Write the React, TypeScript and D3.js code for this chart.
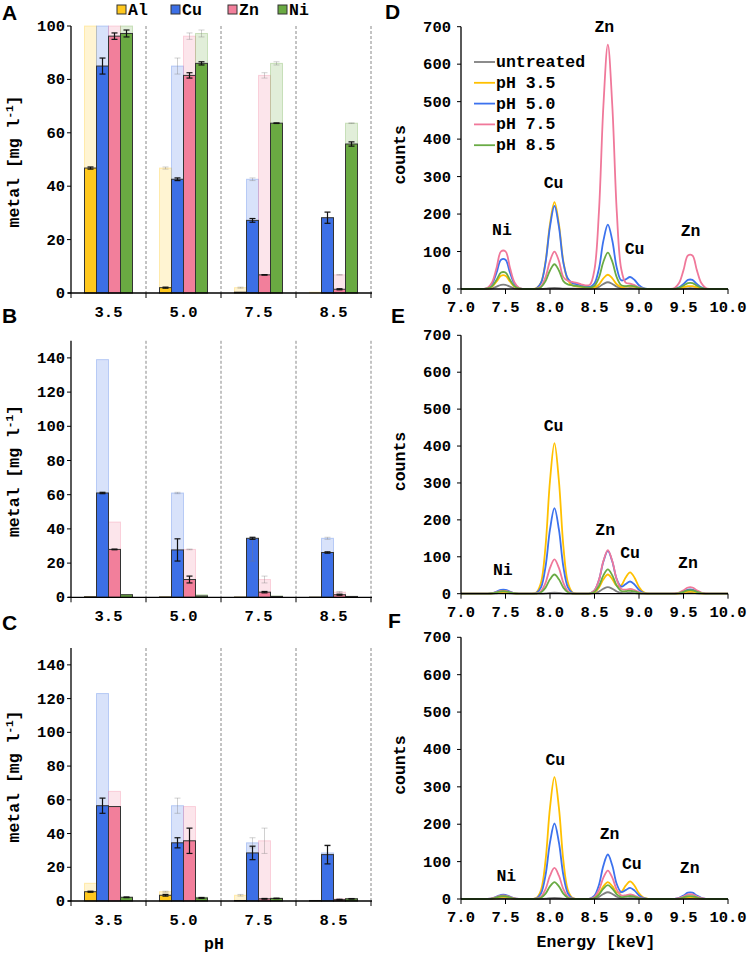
import React from 'react';
import * as d3 from 'd3';

// ---------- bar panels (A, B, C) ----------
const PH = ['3.5', '5.0', '7.5', '8.5'];
const METALS = ['Al', 'Cu', 'Zn', 'Ni'];
const METAL_COLORS = ['#FFC81E', '#3C6FE6', '#F27F9B', '#6AAA42'];

const A_TICKS = [0, 20, 40, 60, 80, 100];
const BC_TICKS = [0, 20, 40, 60, 80, 100, 120, 140];

// Panel A
const A_AL = [46.8, 2.0, 0.3, 0];
const A_CU = [85, 42.6, 27.2, 28.2];
const A_ZN = [96.2, 81.5, 6.8, 1.4];
const A_NI = [97.2, 86, 63.6, 55.8];
const A_AL_ERR = [0.4, 0.2, 0, 0];
const A_CU_ERR = [3, 0.5, 0.7, 2.1];
const A_ZN_ERR = [1.2, 1, 0.1, 0.2];
const A_NI_ERR = [1.3, 0.6, 0.1, 0.8];
const A_INITIAL = [100, 100, 100, 100];

// Panel B
const B_AL = [0.3, 0.2, 0.1, 0.1];
const B_CU = [61, 27.7, 34.5, 26.2];
const B_ZN = [28, 10.4, 3.0, 1.5];
const B_NI = [1.5, 0.8, 0.5, 0.5];
const B_AL_ERR = [0, 0, 0, 0];
const B_CU_ERR = [0.4, 6.5, 0.6, 0.4];
const B_ZN_ERR = [0.2, 2, 0.4, 0.3];
const B_NI_ERR = [0, 0, 0, 0];
const B_INITIAL = [0.3, 139, 44, 1.5];

// Panel C
const C_AL = [5.5, 3.4, 0.3, 0.3];
const C_CU = [56.5, 34.5, 28.5, 27.5];
const C_ZN = [56, 35.7, 1.3, 0.8];
const C_NI = [2.2, 1.8, 1.5, 1.3];
const C_AL_ERR = [0.3, 0.5, 0, 0];
const C_CU_ERR = [4.5, 3, 4, 5.5];
const C_ZN_ERR = [0, 7.5, 0.2, 0.1];
const C_NI_ERR = [0.2, 0.2, 0.1, 0.1];
const C_INITIAL = [10.5, 123, 65, 2.2];

// ---------- spectra panels (D, E, F) ----------
const SPEC_NAMES = ['untreated', 'pH 3.5', 'pH 5.0', 'pH 7.5', 'pH 8.5'];
const SPEC_COLORS = ['#7F7F7F', '#FFC000', '#3C72EE', '#F0789A', '#6AAB45'];
const SPEC_TICKS = [0, 100, 200, 300, 400, 500, 600, 700];
const ENERGY_TICKS = [7, 7.5, 8, 8.5, 9, 9.5, 10];

const ENERGY = [7.00, 7.05, 7.10, 7.15, 7.20, 7.25, 7.30, 7.35, 7.40, 7.45, 7.50, 7.55, 7.60, 7.65, 7.70, 7.75, 7.80, 7.85, 7.90, 7.95,
  8.00, 8.05, 8.10, 8.15, 8.20, 8.25, 8.30, 8.35, 8.40, 8.45, 8.50, 8.55, 8.60, 8.65, 8.70, 8.75, 8.80, 8.85, 8.90, 8.95,
  9.00, 9.05, 9.10, 9.15, 9.20, 9.25, 9.30, 9.35, 9.40, 9.45, 9.50, 9.55, 9.60, 9.65, 9.70, 9.75, 9.80, 9.85, 9.90, 9.95, 10.00];

const D_UNTREATED = [0,0,0,0,0, 0,0.4,2,6.3,11.2, 11.2,6.3,2,0.4,0, 0,0,0,0.2,1, 2.3,3,2.3,1,1, 1,0.9,0.7,0.5,0.5, 1.55,5.7,13.5,18,13.5, 5.9,2,1.7,2,1.5, 0.6,0.15,0,0,0, 0,0,0,0,0.3, 1,1.9,1.9,1,0.3, 0,0,0,0,0, 0];
const D_PH35 = [0,0,0,0,0, 0.1,1.1,6.3,19.9,35.4, 35.4,19.9,6.3,1.1,0.1, 0,0.2,2.3,17.6,73.5, 174,232,174,73.5,24, 10.3,7.2,5.6,4,2.8, 4.1,12,28.5,38,28.6, 12.6,5.4,6.4,8,6, 2.5,0.6,0.1,0,0, 0,0,0,0.2,1.3, 4.2,7.4,7.4,4.2,1.3, 0.2,0,0,0,0, 0];
const D_PH50 = [0,0,0,0,0, 0.25,2.5,13.9,44,78.2, 78.2,44,13.9,2.5,0.25, 0,0.2,2.2,16.9,70.4, 166.5,222,166.5,70.4,28.1, 16.2,12.6,9.8,7,5.9, 15.2,54.5,129,172,129.3, 56.9,23.2,25.7,32,24, 10.1,2.4,0.3,0,0, 0,0,0.1,0.8,4.3, 13.6,24.2,24.2,13.6,4.3, 0.8,0.1,0,0,0, 0];
const D_PH75 = [0,0,0,0,0, 0.3,3.2,17.9,56.6,100.5, 100.5,56.6,17.9,3.2,0.3, 0,0.1,1,7.6,31.7, 75,100,75,31.7,22, 19,16.2,12.6,9.5,11.9, 52.3,206.7,489,652,489, 207.8,54,17,14.5,10.5, 4.4,1.1,0.14,0,0, 0,0,0.3,2.9,15.9, 50.3,89.4,89.4,50.3,15.9, 2.9,0.3,0,0,0, 0];
const D_PH85 = [0,0,0,0,0, 0.14,1.4,7.8,24.6,43.8, 43.8,24.6,7.8,1.4,0.14, 0,0,0.7,5,20.9, 49.5,66,49.5,20.9,12.2, 9.7,8.1,6.3,4.5,3.7, 8.7,30.7,72.8,97,72.9, 31.4,10.3,7.8,9,6.8, 2.9,0.7,0.1,0,0, 0,0,0.05,0.5,2.8, 8.9,15.8,15.8,8.9,2.8, 0.5,0.05,0,0,0, 0];

const E_UNTREATED = [0,0,0,0,0, 0,0.06,0.33,1.05,1.86, 1.86,1.05,0.33,0.06,0, 0,0,0,0.2,1, 2.3,3,2.3,1,0.2, 0,0,0,0,0.2, 1.4,5.7,13.5,18,13.5, 5.9,2,1.7,2,1.5, 0.6,0.15,0,0,0, 0,0,0,0,0.3, 1,1.9,1.9,1,0.3, 0,0,0,0,0, 0];
const E_PH35 = [0,0,0,0,0, 0,0.15,0.8,2.6,4.7, 4.7,2.6,0.8,0.15,0, 0,0.3,4.1,31,129.3, 306,408,306,129.3,31, 4.1,0.3,0,0,0.5, 4,16.5,39,52,39.6, 20.9,22.4,44,58,43.5, 18.4,4.4,0.6,0,0, 0,0,0,0.2,1, 3.1,5.6,5.6,3.1,1, 0.2,0,0,0,0, 0];
const E_PH50 = [0,0,0,0,0, 0,0.33,1.8,5.8,10.2, 10.2,5.8,1.8,0.33,0, 0,0.2,2.3,17.6,73.5, 174,232,174,73.5,17.6, 2.3,0.2,0,0,1.2, 8.8,36.8,87,116,87.3, 39.3,19.3,26,33,24.8, 10.5,2.5,0.3,0,0, 0,0,0,0.4,2, 6.3,11.2,11.2,6.3,2, 0.4,0,0,0,0, 0];
const E_PH75 = [0,0,0,0,0, 0,0.24,1.3,4.2,7.4, 7.4,4.2,1.3,0.24,0, 0,0,0.9,7.1,29.5, 69.8,93,69.8,29.5,7.1, 0.9,0,0,0,1.2, 9,37.4,88.5,118,88.6, 38.4,13.1,11,13,9.8, 4.1,1,0.1,0,0, 0,0,0.05,0.5,3, 9.4,16.8,16.8,9.4,3, 0.5,0,0,0,0, 0];
const E_PH85 = [0,0,0,0,0, 0,0.2,1.2,3.7,6.5, 6.5,3.7,1.2,0.2,0, 0,0,0.5,4,16.5, 39,52,39,16.5,4, 0.5,0,0,0,0.7, 5,20.9,49.5,66,49.6, 21.5,7.5,6.7,8,6, 2.5,0.6,0.1,0,0, 0,0,0,0.3,1.7, 5.2,9.3,9.3,5.2,1.7, 0.3,0,0,0,0, 0];

const F_UNTREATED = [0,0,0,0,0, 0,0.06,0.33,1.05,1.86, 1.86,1.05,0.33,0.06,0, 0,0,0,0.2,1, 2.3,3,2.3,1,0.2, 0,0,0,0,0.2, 1.4,5.7,13.5,18,13.5, 5.9,2,1.7,2,1.5, 0.6,0.15,0,0,0, 0,0,0,0,0.3, 1,1.9,1.9,1,0.3, 0,0,0,0,0, 0];
const F_PH35 = [0,0,0,0,0, 0,0.18,1,3.1,5.6, 5.6,3.1,1,0.18,0, 0,0.3,3.3,24.8,103.3, 244.5,326,244.5,103.3,24.8, 3.3,0.3,0,0,0.45, 3.4,14.3,33.8,45,34.3, 17.9,18.3,35.7,47,35.3, 14.9,3.6,0.5,0,0, 0,0,0,0.15,0.8, 2.6,4.7,4.7,2.6,0.8, 0.15,0,0,0,0, 0];
const F_PH50 = [0,0,0,0,0, 0,0.36,2,6.3,11.2, 11.2,6.3,2,0.36,0, 0,0.2,2,15.4,64, 151.5,202,151.5,64,15.4, 2,0.2,0,0,1.2, 9,37.7,89.3,119,89.6, 40,18.5,23.7,30,22.5, 9.5,2.3,0.3,0,0, 0,0,0.05,0.5,3, 9.4,16.8,16.8,9.4,3, 0.5,0,0,0,0, 0];
const F_PH75 = [0,0,0,0,0, 0,0.3,1.7,5.2,9.3, 9.3,5.2,1.7,0.3,0, 0,0,0.8,6.3,26.3, 62.3,83,62.3,26.3,6.3, 0.8,0,0,0,0.8, 5.8,24.1,57,76,57.1, 25,9.6,9.8,12,9, 3.8,0.9,0.1,0,0, 0,0,0,0.4,2.2, 6.8,12.1,12.1,6.8,2.2, 0.4,0,0,0,0, 0];
const F_PH85 = [0,0,0,0,0, 0,0.24,1.3,4.2,7.4, 7.4,4.2,1.3,0.24,0, 0,0,0.45,3.4,14.3, 33.8,45,33.8,14.3,3.4, 0.45,0,0,0,0.4, 2.8,11.7,27.8,37,27.9, 12.3,5.3,6.4,8,6, 2.5,0.6,0.1,0,0, 0,0,0,0.24,1.3, 4.2,7.4,7.4,4.2,1.3, 0.24,0,0,0,0, 0];

const PEAK_NAMES = ['Ni', 'Cu', 'Zn', 'Cu', 'Zn'];
const D_PEAK_E = [7.46, 8.04, 8.61, 8.95, 9.58];
const D_PEAK_C = [158, 283, 700, 107, 155];
const E_PEAK_E = [7.47, 8.04, 8.62, 8.90, 9.55];
const E_PEAK_C = [64, 454, 173, 111, 82];
const F_PEAK_E = [7.51, 8.06, 8.67, 8.92, 9.57];
const F_PEAK_C = [62, 373, 173, 93, 82];

const MONO = '"Liberation Mono", "Courier New", monospace';
const SANS = '"Liberation Sans", Arial, sans-serif';

function BarPanel(props: any) {
  const { top, bottom, yMax, ticks, series, errs, initial, letter, letterY, legend, xTitle } = props;
  const left = 71, right = 371;
  const y = d3.scaleLinear().domain([0, yMax]).range([bottom, top]);
  const gx = d3.scaleBand<string>().domain(PH).range([left, right]);
  const mx = d3.scaleBand<string>().domain(METALS).range([13.5, 61.5]);
  const bw = mx.bandwidth();
  const midY = (top + bottom) / 2 + 2;
  const faded: any[] = [];
  const solid: any[] = [];
  const fadedErr: any[] = [];
  const solidErr: any[] = [];
  PH.forEach((p, k) => {
    METALS.forEach((m, j) => {
      const x0 = (gx(p) as number) + (mx(m) as number);
      const cx = x0 + bw / 2;
      const fv = k === 0 ? initial[j] : series[j][k - 1];
      const fe = k === 0 ? 0 : errs[j][k - 1];
      const fh = Math.min(fv, yMax);
      if (fh > 0) {
        faded.push(<rect key={`f${k}${j}`} x={x0} y={y(fh)} width={bw} height={y(0) - y(fh)}
          fill={METAL_COLORS[j]} fillOpacity={0.2} stroke={METAL_COLORS[j]} strokeOpacity={0.3} strokeWidth={1} />);
      }
      if (fe > 0) {
        const y1 = y(Math.min(fv + fe, yMax)), y2 = y(fv - fe);
        fadedErr.push(<g key={`fe${k}${j}`} stroke="#777" strokeOpacity={0.35} strokeWidth={1}>
          <line x1={cx} x2={cx} y1={y1} y2={y2} />
          <line x1={cx - 3} x2={cx + 3} y1={y1} y2={y1} />
          <line x1={cx - 3} x2={cx + 3} y1={y2} y2={y2} />
        </g>);
      }
      const v = series[j][k];
      if (v > 0) {
        solid.push(<rect key={`s${k}${j}`} x={x0} y={y(v)} width={bw} height={y(0) - y(v)}
          fill={METAL_COLORS[j]} stroke="#333" strokeWidth={1} />);
      }
      const e = errs[j][k];
      if (e > 0) {
        const y1 = y(v + e), y2 = y(Math.max(v - e, 0));
        solidErr.push(<g key={`se${k}${j}`} stroke="#111" strokeWidth={1.2}>
          <line x1={cx} x2={cx} y1={y1} y2={y2} />
          <line x1={cx - 3} x2={cx + 3} y1={y1} y2={y1} />
          <line x1={cx - 3} x2={cx + 3} y1={y2} y2={y2} />
        </g>);
      }
    });
  });
  return (
    <g>
      <text x={2} y={letterY} fontFamily={SANS} fontWeight="bold" fontSize={21}>{letter}</text>
      {PH.map((p, k) => (
        <line key={`d${k}`} x1={(gx(p) as number) + gx.bandwidth()} x2={(gx(p) as number) + gx.bandwidth()}
          y1={top} y2={bottom} stroke="#888" strokeWidth={1} strokeDasharray="3,2" />
      ))}
      {faded}
      {solid}
      {fadedErr}
      {solidErr}
      <line x1={left} x2={left} y1={top} y2={bottom} stroke="#000" strokeWidth={1.3} />
      <line x1={left - 3} x2={right + 1} y1={bottom} y2={bottom} stroke="#000" strokeWidth={1.3} />
      {ticks.map((t: number) => (
        <g key={`yt${t}`}>
          <line x1={left - 4} x2={left} y1={y(t)} y2={y(t)} stroke="#000" strokeWidth={1} />
          <text x={left - 6} y={y(t) + 5} textAnchor="end" fontFamily={MONO} fontWeight="bold" fontSize={15.5}>{t}</text>
        </g>
      ))}
      {[...PH.map(p => gx(p) as number), right].map((x, i) => (
        <line key={`xt${i}`} x1={x} x2={x} y1={bottom} y2={bottom + 5} stroke="#000" strokeWidth={1} />
      ))}
      {PH.map(p => (
        <text key={`xl${p}`} x={(gx(p) as number) + gx.bandwidth() / 2} y={bottom + 24} textAnchor="middle"
          fontFamily={MONO} fontWeight="bold" fontSize={15.5}>{p}</text>
      ))}
      <text transform={`translate(19,${midY}) rotate(-90)`} textAnchor="middle" fontFamily={MONO} fontWeight="bold" fontSize={16.5}>
        metal [mg l<tspan dy={-6} fontSize={11}>-1</tspan><tspan dy={6}>]</tspan>
      </text>
      {xTitle && <text x={214} y={949} textAnchor="middle" fontFamily={MONO} fontWeight="bold" fontSize={16.5}>pH</text>}
      {legend && METALS.map((m, j) => {
        const lx = [117, 171, 228, 278][j];
        return (
          <g key={`lg${m}`}>
            <rect x={lx} y={5} width={9} height={9} fill={METAL_COLORS[j]} stroke="#333" strokeWidth={1} />
            <text x={lx + 11} y={15} fontFamily={MONO} fontWeight="bold" fontSize={16.5}>{m}</text>
          </g>
        );
      })}
    </g>
  );
}

function SpecPanel(props: any) {
  const { top, bottom, series, peakE, peakC, letter, letterX, letterY, legend, xTitle } = props;
  const left = 461, right = 728;
  const x = d3.scaleLinear().domain([7, 10]).range([left, right]);
  const y = d3.scaleLinear().domain([0, 700]).range([bottom, top]);
  const line = d3.line<number>()
    .x((_, i) => x(ENERGY[i]))
    .y(d => y(d))
    .curve(d3.curveCatmullRom.alpha(0.5));
  const midY = (top + bottom) / 2 - 3;
  return (
    <g>
      <text x={letterX} y={letterY} fontFamily={SANS} fontWeight="bold" fontSize={21}>{letter}</text>
      {series.map((s: number[], i: number) => (
        <path key={`p${i}`} d={line(s) as string} fill="none" stroke={SPEC_COLORS[i]} strokeWidth={1.8} strokeLinejoin="round" />
      ))}
      <line x1={left} x2={left} y1={top} y2={bottom} stroke="#000" strokeWidth={1.3} />
      <line x1={left} x2={right} y1={bottom} y2={bottom} stroke="#000" strokeWidth={1.3} />
      {SPEC_TICKS.map(t => (
        <g key={`yt${t}`}>
          <line x1={left - 4} x2={left} y1={y(t)} y2={y(t)} stroke="#000" strokeWidth={1} />
          <text x={left - 10} y={y(t) + 5} textAnchor="end" fontFamily={MONO} fontWeight="bold" fontSize={15.5}>{t}</text>
        </g>
      ))}
      {ENERGY_TICKS.map(t => (
        <g key={`xt${t}`}>
          <line x1={x(t)} x2={x(t)} y1={bottom} y2={bottom + 5} stroke="#000" strokeWidth={1} />
          <text x={x(t)} y={bottom + 23} textAnchor="middle" fontFamily={MONO} fontWeight="bold" fontSize={15.5}>{t.toFixed(1)}</text>
        </g>
      ))}
      {PEAK_NAMES.map((n, i) => (
        <text key={`pk${i}`} x={x(peakE[i])} y={y(peakC[i]) + 5} textAnchor="middle" fontFamily={MONO} fontWeight="bold" fontSize={16.5}>{n}</text>
      ))}
      <text transform={`translate(405,${midY}) rotate(-90)`} textAnchor="middle" fontFamily={MONO} fontWeight="bold" fontSize={16.5}>counts</text>
      {xTitle && <text x={596} y={947} textAnchor="middle" fontFamily={MONO} fontWeight="bold" fontSize={16.5}>Energy [keV]</text>}
      {legend && SPEC_NAMES.map((n, i) => {
        const ly = 62 + i * 20.8;
        return (
          <g key={`lg${i}`}>
            <line x1={474} x2={495} y1={ly} y2={ly} stroke={SPEC_COLORS[i]} strokeWidth={1.8} />
            <text x={496} y={ly + 5} fontFamily={MONO} fontWeight="bold" fontSize={16.5}>{n}</text>
          </g>
        );
      })}
    </g>
  );
}

export default function App() {
  return (
    <svg width={754} height={955} style={{ position: 'absolute', left: 0, top: 0, background: '#fff' }}>
      <rect width={754} height={955} fill="#fff" />
      <BarPanel top={26} bottom={293} yMax={100} ticks={A_TICKS}
        series={[A_AL, A_CU, A_ZN, A_NI]} errs={[A_AL_ERR, A_CU_ERR, A_ZN_ERR, A_NI_ERR]} initial={A_INITIAL}
        letter="A" letterY={20} legend />
      <BarPanel top={340.8} bottom={597.3} yMax={150} ticks={BC_TICKS}
        series={[B_AL, B_CU, B_ZN, B_NI]} errs={[B_AL_ERR, B_CU_ERR, B_ZN_ERR, B_NI_ERR]} initial={B_INITIAL}
        letter="B" letterY={323} />
      <BarPanel top={648} bottom={901} yMax={150} ticks={BC_TICKS}
        series={[C_AL, C_CU, C_ZN, C_NI]} errs={[C_AL_ERR, C_CU_ERR, C_ZN_ERR, C_NI_ERR]} initial={C_INITIAL}
        letter="C" letterY={630} xTitle />
      <SpecPanel top={26.7} bottom={289} series={[D_UNTREATED, D_PH35, D_PH50, D_PH75, D_PH85]}
        peakE={D_PEAK_E} peakC={D_PEAK_C} letter="D" letterX={385} letterY={19} legend />
      <SpecPanel top={335.3} bottom={593.7} series={[E_UNTREATED, E_PH35, E_PH50, E_PH75, E_PH85]}
        peakE={E_PEAK_E} peakC={E_PEAK_C} letter="E" letterX={391} letterY={323} />
      <SpecPanel top={637.3} bottom={899} series={[F_UNTREATED, F_PH35, F_PH50, F_PH75, F_PH85]}
        peakE={F_PEAK_E} peakC={F_PEAK_C} letter="F" letterX={388} letterY={628} xTitle />
    </svg>
  );
}
